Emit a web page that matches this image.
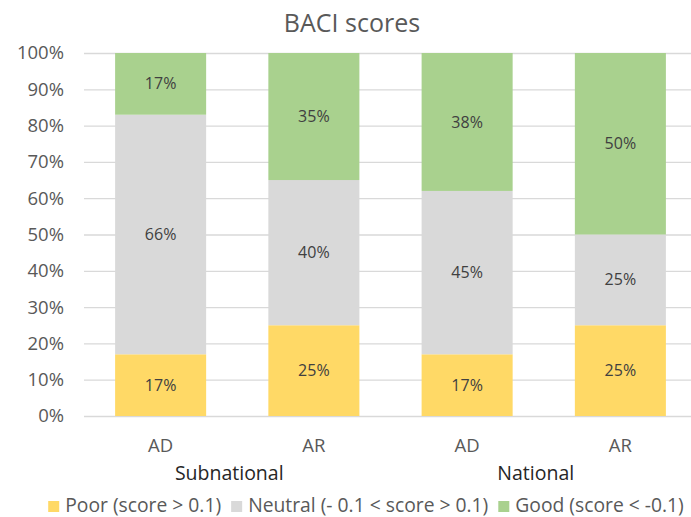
<!DOCTYPE html>
<html>
<head>
<meta charset="utf-8">
<script src="https://cdn.jsdelivr.net/npm/d3@7"></script>
<style>
  body { margin: 0; background: #fff; }
  svg { font-family: 'Open Sans', sans-serif; }
</style>
</head>
<body>
<div id="chart"></div>
<script>
// data
const groups = ['Subnational', 'Subnational', 'National', 'National']
const methods = ['AD', 'AR', 'AD', 'AR']
const poor = [17, 25, 17, 25]
const neutral = [66, 40, 45, 25]
const good = [17, 35, 38, 50]
const yTicks = [0, 10, 20, 30, 40, 50, 60, 70, 80, 90, 100]

const seriesNames = ['Poor (score > 0.1)', 'Neutral (- 0.1 < score > 0.1)', 'Good (score < -0.1)']
const colors = ['#FFD966', '#D9D9D9', '#A9D18E']

const W = 691
const H = 517
const margin = { top: 53, left: 84, right: -6, bottom: 101 }
const width = W - margin.left - margin.right
const height = H - margin.top - margin.bottom

const svg = d3
  .select('#chart')
  .append('svg')
  .attr('width', W)
  .attr('height', H)

const g = svg
  .append('g')
  .attr('transform', 'translate(' + margin.left + ',' + margin.top + ')')

const keys = methods.map((m, i) => groups[i] + '-' + m)

const rows = keys.map((k, i) => ({ key: k, poor: poor[i], neutral: neutral[i], good: good[i] }))
const stack = d3.stack().keys(['poor', 'neutral', 'good'])(rows)

const xPositionScale = d3
  .scaleBand()
  .domain(keys)
  .range([0, width])
  .paddingInner(0.406)
  .paddingOuter(0.203)

const yPositionScale = d3
  .scaleLinear()
  .domain([0, 100])
  .range([height, 0])

// title
svg
  .append('text')
  .attr('x', 352)
  .attr('y', 32)
  .attr('text-anchor', 'middle')
  .attr('font-size', 25)
  .attr('fill', '#595959')
  .text('BACI scores')

// gridlines + y labels
const y_axis = d3
  .axisLeft(yPositionScale)
  .tickValues(yTicks)
  .tickFormat(d => d + '%')
  .tickSize(-width)
  .tickPadding(20)

g.append('g')
  .attr('class', 'axis y-axis')
  .call(y_axis)
g.selectAll('.y-axis path').attr('stroke', 'none')
g.selectAll('.y-axis line').attr('stroke', '#D9D9D9').attr('stroke-width', 1.3)
g.selectAll('.y-axis text')
  .attr('font-size', 18.5)
  .attr('fill', '#595959')
  .attr('font-family', "'Open Sans', sans-serif")

// bars
const layers = g
  .selectAll('.layer')
  .data(stack)
  .enter()
  .append('g')
  .attr('class', 'layer')
  .attr('fill', (d, i) => colors[i])

layers
  .selectAll('rect')
  .data(d => d)
  .enter()
  .append('rect')
  .attr('x', d => xPositionScale(d.data.key))
  .attr('width', xPositionScale.bandwidth())
  .attr('y', d => yPositionScale(d[1]))
  .attr('height', d => yPositionScale(d[0]) - yPositionScale(d[1]))

layers
  .selectAll('.lbl')
  .data(d => d)
  .enter()
  .append('text')
  .attr('class', 'lbl')
  .attr('x', d => xPositionScale(d.data.key) + xPositionScale.bandwidth() / 2)
  .attr('y', d => yPositionScale((d[0] + d[1]) / 2))
  .attr('dy', '0.35em')
  .attr('text-anchor', 'middle')
  .attr('font-size', 16)
  .attr('fill', '#404040')
  .text(d => (d[1] - d[0]) + '%')

// category labels
g.selectAll('.cat')
  .data(keys)
  .enter()
  .append('text')
  .attr('class', 'cat')
  .attr('x', d => xPositionScale(d) + xPositionScale.bandwidth() / 2)
  .attr('y', height + 36)
  .attr('text-anchor', 'middle')
  .attr('font-size', 18.5)
  .attr('fill', '#595959')
  .text((d, i) => methods[i])

// group labels
const groupNames = Array.from(new Set(groups))
g.selectAll('.grp')
  .data(groupNames)
  .enter()
  .append('text')
  .attr('class', 'grp')
  .attr('x', name => {
    const ks = keys.filter((k, i) => groups[i] === name)
    const a = xPositionScale(ks[0]) + xPositionScale.bandwidth() / 2
    const b = xPositionScale(ks[ks.length - 1]) + xPositionScale.bandwidth() / 2
    return (a + b) / 2 - 8
  })
  .attr('y', height + 64)
  .attr('text-anchor', 'middle')
  .attr('font-size', 19.5)
  .attr('fill', '#262626')
  .text(d => d)

// legend
const legend = svg.append('g').attr('class', 'legend')
let lx = 0
seriesNames.forEach((name, i) => {
  const item = legend.append('g').attr('transform', 'translate(' + lx + ',0)')
  item.append('rect')
    .attr('x', 0)
    .attr('y', 501)
    .attr('width', 11)
    .attr('height', 11)
    .attr('fill', colors[i])
  const t = item.append('text')
    .attr('x', 17)
    .attr('y', 512)
    .attr('font-size', 19.3)
    .attr('fill', '#595959')
    .text(name)
  lx += 17 + t.node().getComputedTextLength() + 10
})
const legendWidth = lx - 10
legend.attr('transform', 'translate(' + (366 - legendWidth / 2) + ',0)')
</script>
</body>
</html>
